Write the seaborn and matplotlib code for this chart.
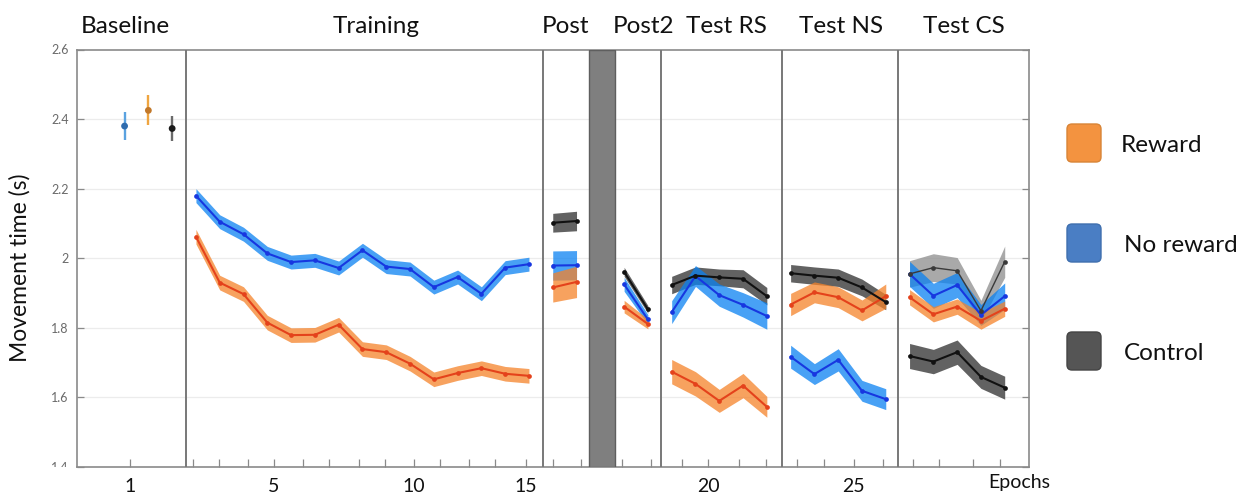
import matplotlib
matplotlib.use("Agg")
import matplotlib.pyplot as plt
from matplotlib.patches import FancyBboxPatch, Rectangle
import matplotlib.transforms as mtransforms
import numpy as np
import pandas as pd
import seaborn as sns

# ---------------------------------------------------------------- data
groups = ["Reward", "No reward", "Control"]

# baseline: one epoch, groups dodged side by side
baseline_x = [3, 2, 4]
baseline_mean = [2.425, 2.380, 2.373]
baseline_err = [0.043, 0.041, 0.036]

training_x = [5, 6, 7, 8, 9, 10, 11, 12, 13, 14, 15, 16, 17, 18, 19]
training_reward = [2.062, 1.930, 1.897, 1.815, 1.779, 1.780, 1.809, 1.739,
                   1.730, 1.697, 1.652, 1.670, 1.684, 1.668, 1.662]
training_reward_sem = [0.021] * 15
training_noreward = [2.180, 2.105, 2.069, 2.014, 1.989, 1.994, 1.972, 2.023,
                     1.976, 1.969, 1.917, 1.946, 1.898, 1.973, 1.983]
training_noreward_sem = [0.020] * 15

post_x = [20, 21]
post_reward = [1.916, 1.932]
post_reward_sem = [0.042, 0.045]
post_noreward = [1.979, 1.980]
post_noreward_sem = [0.042, 0.042]
post_control = [2.102, 2.107]
post_control_sem = [0.027, 0.028]

post2_x = [23, 24]
post2_reward = [1.861, 1.811]
post2_reward_sem = [0.018, 0.014]
post2_noreward = [1.925, 1.824]
post2_noreward_sem = [0.020, 0.014]
post2_control = [1.961, 1.853]
post2_control_sem = [0.013, 0.011]

rs_x = [25, 26, 27, 28, 29]
rs_reward = [1.674, 1.639, 1.590, 1.634, 1.573]
rs_reward_sem = [0.035, 0.035, 0.033, 0.035, 0.030]
rs_noreward = [1.845, 1.949, 1.894, 1.866, 1.834]
rs_noreward_sem = [0.033, 0.030, 0.032, 0.035, 0.038]
rs_control = [1.923, 1.950, 1.945, 1.941, 1.891]
rs_control_sem = [0.025, 0.025, 0.024, 0.026, 0.025]

ns_x = [30, 31, 32, 33, 34]
ns_reward = [1.867, 1.902, 1.888, 1.850, 1.891]
ns_reward_sem = [0.032, 0.030, 0.030, 0.030, 0.035]
ns_noreward = [1.717, 1.667, 1.708, 1.619, 1.595]
ns_noreward_sem = [0.033, 0.030, 0.032, 0.030, 0.030]
ns_control = [1.957, 1.950, 1.944, 1.916, 1.874]
ns_control_sem = [0.025, 0.025, 0.025, 0.024, 0.022]

cs_x = [35, 36, 37, 38, 39]
cs_reward = [1.888, 1.839, 1.861, 1.820, 1.855]
cs_reward_sem = [0.022, 0.022, 0.022, 0.024, 0.022]
cs_noreward = [1.955, 1.892, 1.923, 1.837, 1.891]
cs_noreward_sem = [0.036, 0.036, 0.036, 0.030, 0.038]
cs_control = [1.719, 1.703, 1.730, 1.659, 1.628]
cs_control_sem = [0.036, 0.035, 0.035, 0.033, 0.033]
cs_control_alt = [1.955, 1.973, 1.964, 1.849, 1.990]
cs_control_alt_sem = [0.038, 0.040, 0.038, 0.030, 0.045]

phase_names = ["Baseline", "Training", "Post", "Post2", "Test RS", "Test NS", "Test CS"]
tick_values = ["1", "5", "10", "15", "20", "25"]

# ---------------------------------------------------------------- long table
segments = [
    ("Training", "No reward", training_x, training_noreward, training_noreward_sem),
    ("Training", "Reward", training_x, training_reward, training_reward_sem),
    ("Post", "Control", post_x, post_control, post_control_sem),
    ("Post", "No reward", post_x, post_noreward, post_noreward_sem),
    ("Post", "Reward", post_x, post_reward, post_reward_sem),
    ("Post2", "Control", post2_x, post2_control, post2_control_sem),
    ("Post2", "No reward", post2_x, post2_noreward, post2_noreward_sem),
    ("Post2", "Reward", post2_x, post2_reward, post2_reward_sem),
    ("Test RS", "Control", rs_x, rs_control, rs_control_sem),
    ("Test RS", "No reward", rs_x, rs_noreward, rs_noreward_sem),
    ("Test RS", "Reward", rs_x, rs_reward, rs_reward_sem),
    ("Test NS", "Control", ns_x, ns_control, ns_control_sem),
    ("Test NS", "No reward", ns_x, ns_noreward, ns_noreward_sem),
    ("Test NS", "Reward", ns_x, ns_reward, ns_reward_sem),
    ("Test CS", "Control", cs_x, cs_control, cs_control_sem),
    ("Test CS", "Control alt", cs_x, cs_control_alt, cs_control_alt_sem),
    ("Test CS", "No reward", cs_x, cs_noreward, cs_noreward_sem),
    ("Test CS", "Reward", cs_x, cs_reward, cs_reward_sem),
]
rows = []
for phase, grp, xs, ys, es in segments:
    for x, y, e in zip(xs, ys, es):
        rows.append({"epoch": x, "time": y, "sem": e, "group": grp,
                     "segment": f"{phase}|{grp}"})
df = pd.DataFrame(rows)

line_colors = {"Reward": "#e4421b", "No reward": "#1737e0",
               "Control": "#111111", "Control alt": "#3a3a3a"}
band_colors = {"Reward": "#f5832a", "No reward": "#0a82f2",
               "Control": "#2e2e2e", "Control alt": "#8c8c8c"}
band_order = ["Control", "Control alt", "No reward", "Reward"]

# ---------------------------------------------------------------- figure
sns.set_style("white")
plt.rcParams["font.family"] = ["Lato", "DejaVu Sans"]

W, H = 1252, 496
fig = plt.figure(figsize=(W / 100, H / 100), dpi=100)
ax = fig.add_axes([77 / W, 29 / H, (1028.5 - 77) / W, (467 - 49.5) / H])

ax.set_xlim(0, 40)
ax.set_ylim(1.4, 2.6)

# horizontal grid
for gy in [1.6, 1.8, 2.0, 2.2, 2.4]:
    ax.axhline(gy, color="#ececec", lw=0.9, zorder=0)

# shaded s.e.m. bands
for grp in band_order:
    for seg, sub in df[df["group"] == grp].groupby("segment", sort=False):
        ax.fill_between(sub["epoch"], sub["time"] - sub["sem"], sub["time"] + sub["sem"],
                        color=band_colors[grp], alpha=0.75, lw=0, zorder=1)

# mean lines
sns.lineplot(data=df, x="epoch", y="time", hue="group", units="segment",
             estimator=None, sort=False, palette=line_colors, marker="o",
             markersize=3.4, markeredgewidth=0, linewidth=1.5, legend=False,
             ax=ax, zorder=3)
alt_rgb = np.round(matplotlib.colors.to_rgb(line_colors["Control alt"]), 3)
for ln in ax.lines:
    if tuple(np.round(matplotlib.colors.to_rgb(ln.get_color()), 3)) == tuple(alt_rgb):
        ln.set_linewidth(1.0)

# baseline points with error bars
bar_colors = ["#efa540", "#5aa2e0", "#6a6a6a"]
dot_colors = ["#c2782a", "#2f6cae", "#1a1a1a"]
for x, m, e, bc in zip(baseline_x, baseline_mean, baseline_err, bar_colors):
    ax.errorbar([x], [m], yerr=[e], fmt="none", ecolor=bc, elinewidth=1.7, zorder=2)
base_df = pd.DataFrame({"epoch": baseline_x, "time": baseline_mean, "group": groups})
sns.scatterplot(data=base_df, x="epoch", y="time", hue="group",
                palette=dict(zip(groups, dot_colors)), s=24, linewidth=0,
                legend=False, ax=ax, zorder=4)

# phase separators and the gap between Post and Post2
for xv in [4.6, 19.6, 24.56, 29.62, 34.52]:
    ax.axvline(xv, color="#787878", lw=1.4, zorder=5)
ax.axvspan(21.53, 22.62, facecolor="#7f7f7f", edgecolor="#5e5e5e", lw=1.0, zorder=5)

# phase titles above the frame
title_x = [2.02, 12.56, 20.55, 23.8, 27.31, 32.1, 37.3]
trans = mtransforms.blended_transform_factory(ax.transData, ax.transAxes)
for name, tx in zip(phase_names, title_x):
    ax.text(tx, 1.0395, name, transform=trans, ha="center", va="baseline",
            fontsize=17.5, color="#111111")

# axes styling
for sp in ax.spines.values():
    sp.set_color("#8a8a8a")
    sp.set_linewidth(1.2)

yt = [1.4, 1.6, 1.8, 2.0, 2.2, 2.4, 2.6]
ax.set_yticks(yt)
ax.set_yticklabels(["1.4", "1.6", "1.8", "2", "2.2", "2.4", "2.6"])
ax.tick_params(axis="y", which="both", direction="in", length=5, width=0.9,
               color="#8a8a8a", labelsize=9, labelcolor="#6a6a6a", pad=6,
               left=True, right=True)

major_ticks = [2.23, 8.28, 14.17, 18.87, 26.54, 32.66]
minor_ticks = [4.86, 5.96, 7.20, 9.51, 10.61, 11.84, 12.93, 15.26, 16.49, 17.58,
               20.0, 21.2, 22.92, 24.12, 25.42, 27.81, 28.96, 30.25, 31.41,
               33.89, 35.13, 36.25, 37.65, 38.8]
ax.set_xticks(major_ticks)
ax.set_xticklabels(tick_values)
ax.set_xticks(minor_ticks, minor=True)
ax.tick_params(axis="x", which="both", direction="in", length=6, width=0.9,
               color="#8a8a8a", labelsize=14, labelcolor="#111111", pad=8,
               bottom=True, top=False)
ax.text(39.6, -0.036, "Epochs", transform=trans, ha="center", va="center",
        fontsize=14, color="#111111")

ax.set_xlabel("")
ax.set_ylabel("Movement time (s)", fontsize=16.5, color="#111111")
ax.yaxis.set_label_coords(-0.049, 0.478)

# the lowest y label is partly hidden under a white strip
fig.add_artist(Rectangle((40 / W, 0), 36 / W, 29 / H, transform=fig.transFigure,
                         facecolor="white", edgecolor="none", zorder=20))

# legend as rounded swatches
lax = fig.add_axes([1040 / W, 0, (W - 1040) / W, 1])
lax.set_xlim(1040, W)
lax.set_ylim(H, 0)
lax.axis("off")
swatch_fill = ["#f39340", "#4a7ec4", "#555555"]
swatch_edge = ["#d88436", "#3f6fae", "#444444"]
swatch_top = [124, 224, 332]
label_x = [1121, 1124, 1124]
for grp, fc, ec, top, lx in zip(groups, swatch_fill, swatch_edge, swatch_top, label_x):
    lax.add_patch(FancyBboxPatch((1067, top), 34, 38,
                                 boxstyle="round,pad=0,rounding_size=5",
                                 facecolor=fc, edgecolor=ec, lw=1.0))
    lax.text(lx, top + 21, grp, ha="left", va="center", fontsize=17.5, color="#111111")

fig.savefig("out.png", dpi=100)
